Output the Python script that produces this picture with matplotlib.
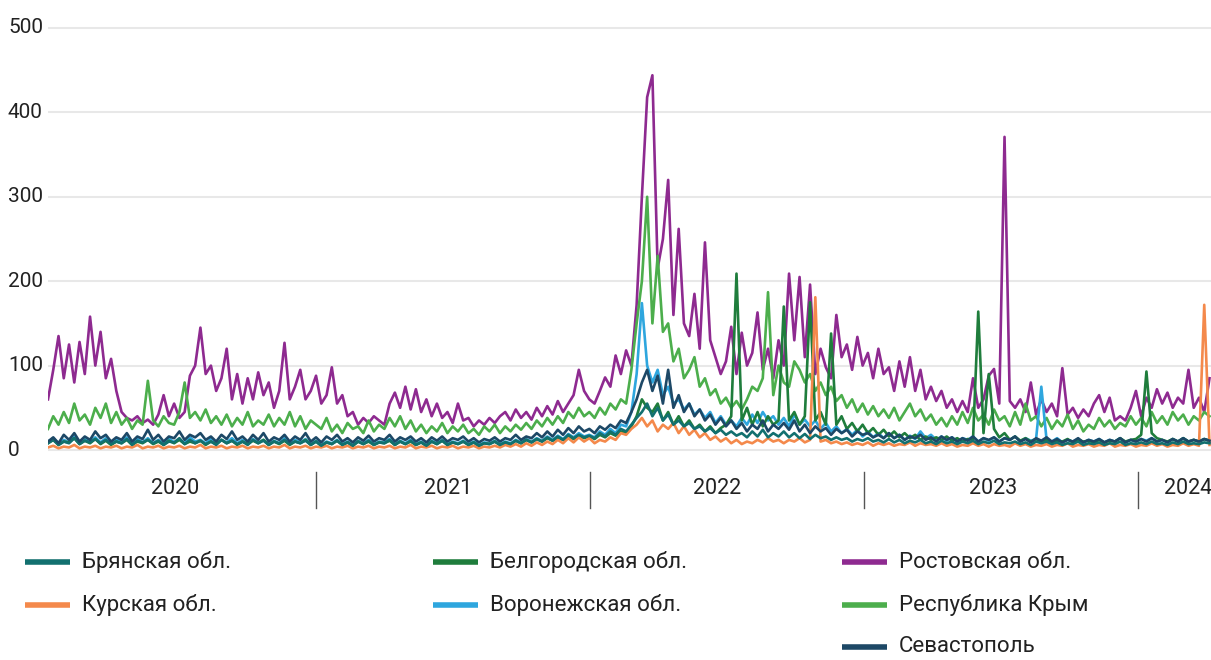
import matplotlib
matplotlib.use("Agg")
import matplotlib.pyplot as plt
import matplotlib.transforms as mtransforms
from matplotlib.lines import Line2D
import numpy as np

plt.rcParams['font.family'] = ['Liberation Sans Narrow', 'Roboto', 'DejaVu Sans']

# weekly readings, first week starting 2020-01-10
start = np.datetime64('2020-01-10')

rostov = [
    60, 95, 135, 85, 125, 80, 128, 90, 158, 100,
    140, 85, 108, 70, 45, 38, 35, 40, 32, 36,
    30, 42, 65, 40, 55, 38, 45, 88, 100, 145,
    90, 100, 70, 85, 120, 60, 90, 55, 85, 60,
    92, 65, 80, 50, 70, 127, 60, 75, 95, 60,
    70, 88, 55, 65, 98, 55, 65, 40, 45, 30,
    38, 32, 40, 35, 30, 55, 68, 50, 75, 48,
    72, 45, 60, 40, 55, 38, 45, 32, 55, 35,
    38, 28, 35, 30, 38, 32, 40, 45, 35, 48,
    38, 45, 36, 50, 40, 52, 42, 58, 45, 55,
    65, 95, 70, 60, 55, 70, 86, 75, 112, 90,
    118, 100, 172, 300, 418, 444, 215, 250, 320, 160,
    262, 150, 135, 185, 120, 246, 130, 110, 90, 105,
    146, 90, 139, 100, 115, 163, 95, 120, 85, 130,
    100, 209, 130, 205, 110, 196, 90, 120, 98, 85,
    160, 110, 125, 95, 134, 100, 115, 85, 120, 90,
    98, 70, 105, 75, 110, 70, 95, 60, 75, 58,
    70, 50, 60, 45, 58, 45, 85, 50, 60, 88,
    96, 55, 371, 58, 50, 60, 45, 80, 42, 60,
    45, 55, 40, 97, 42, 50, 38, 48, 40, 55,
    65, 45, 62, 35, 40, 35, 50, 70, 40, 62,
    50, 72, 55, 68, 50, 62, 55, 95, 50, 62,
    45, 85,
]

crimea = [
    25, 40, 30, 45, 32, 55, 35, 42, 30, 50,
    38, 55, 32, 45, 30, 38, 25, 35, 30, 82,
    35, 28, 40, 32, 30, 45, 80, 38, 45, 35,
    48, 32, 40, 30, 42, 28, 38, 30, 45, 28,
    35, 30, 42, 28, 38, 30, 45, 28, 40, 25,
    35, 30, 25, 38, 22, 30, 20, 32, 25, 28,
    20, 35, 22, 30, 25, 38, 28, 40, 25, 35,
    22, 30, 20, 28, 22, 32, 20, 28, 22, 30,
    20, 25, 18, 28, 22, 30, 20, 28, 22, 30,
    24, 32, 25, 35, 28, 38, 30, 40, 32, 45,
    38, 50, 40, 45, 38, 50, 42, 55, 48, 60,
    55, 95, 150, 200, 300, 150, 230, 140, 150, 105,
    120, 85, 95, 110, 75, 85, 65, 72, 55, 62,
    50, 58, 48, 60, 75, 70, 85, 187, 65, 100,
    80, 75, 105, 95, 80, 90, 70, 80, 65, 75,
    58, 65, 50, 60, 45, 55, 42, 52, 40, 48,
    38, 50, 35, 45, 55, 40, 48, 35, 42, 30,
    38, 28, 40, 30, 45, 32, 50, 35, 42, 30,
    48, 35, 40, 28, 45, 30, 55, 35, 40, 28,
    38, 25, 35, 28, 42, 25, 35, 22, 30, 25,
    38, 28, 35, 25, 32, 28, 40, 30, 38, 28,
    45, 32, 40, 30, 45, 35, 42, 30, 40, 35,
    45, 40,
]

sevastopol = [
    10, 15, 8, 18, 12, 20, 10, 16, 12, 22,
    14, 18, 10, 15, 12, 20, 10, 16, 13, 24,
    12, 18, 10, 16, 14, 22, 12, 18, 15, 20,
    12, 16, 10, 18, 13, 22, 12, 16, 10, 18,
    12, 20, 10, 15, 12, 18, 10, 16, 12, 20,
    10, 15, 9, 16, 12, 18, 10, 14, 9, 15,
    11, 17, 10, 14, 12, 18, 10, 15, 12, 16,
    10, 14, 9, 15, 11, 16, 10, 14, 12, 16,
    10, 14, 9, 13, 11, 15, 10, 14, 12, 18,
    12, 16, 14, 20, 15, 22, 16, 24, 18, 26,
    20, 28, 22, 25, 20, 28, 24, 30, 26, 35,
    32, 45, 60, 80, 95, 70, 88, 55, 95, 50,
    65, 45, 55, 40, 48, 35, 42, 30, 38, 28,
    35, 25, 32, 22, 30, 25, 35, 22, 30, 25,
    32, 24, 35, 22, 30, 20, 28, 22, 26, 18,
    25, 20, 24, 16, 22, 18, 20, 15, 18, 14,
    20, 14, 18, 12, 16, 14, 18, 12, 15, 10,
    16, 12, 15, 10, 14, 11, 16, 10, 14, 12,
    15, 10, 14, 12, 16, 10, 13, 9, 14, 11,
    15, 10, 13, 9, 12, 10, 14, 9, 12, 10,
    13, 9, 12, 10, 14, 9, 12, 10, 13, 10,
    14, 10, 12, 9, 13, 10, 14, 10, 12, 10,
    13, 11,
]

bryansk = [
    8, 12, 6, 10, 8, 14, 7, 11, 9, 13,
    8, 12, 7, 10, 8, 13, 6, 11, 9, 12,
    8, 11, 6, 10, 9, 14, 7, 12, 8, 11,
    7, 10, 6, 12, 8, 11, 7, 10, 6, 12,
    8, 11, 6, 10, 8, 12, 7, 10, 8, 11,
    6, 10, 5, 9, 7, 11, 6, 9, 5, 10,
    7, 11, 6, 9, 8, 12, 6, 10, 7, 11,
    6, 9, 5, 10, 7, 11, 6, 9, 7, 10,
    6, 9, 5, 8, 7, 10, 6, 9, 7, 11,
    8, 12, 9, 13, 10, 15, 11, 16, 12, 18,
    14, 18, 15, 17, 14, 20, 16, 22, 18, 25,
    22, 30, 38, 45, 55, 40, 50, 35, 42, 30,
    35, 28, 32, 25, 28, 22, 26, 20, 24, 18,
    22, 17, 20, 15, 22, 16, 24, 15, 20, 16,
    22, 15, 20, 14, 19, 13, 18, 14, 16, 12,
    15, 12, 14, 10, 13, 11, 14, 10, 12, 9,
    13, 9, 12, 8, 11, 9, 12, 8, 10, 7,
    11, 8, 10, 7, 10, 8, 11, 7, 10, 8,
    11, 7, 9, 8, 10, 7, 9, 6, 10, 8,
    10, 7, 9, 6, 8, 7, 10, 6, 8, 7,
    9, 6, 8, 7, 10, 6, 8, 7, 9, 7,
    10, 7, 8, 6, 9, 7, 10, 7, 8, 7,
    9, 8,
]

voronezh = [
    10, 14, 8, 12, 9, 16, 8, 13, 10, 15,
    9, 14, 8, 12, 10, 15, 8, 13, 9, 14,
    8, 12, 7, 14, 9, 13, 8, 15, 10, 12,
    8, 13, 7, 12, 9, 14, 8, 12, 7, 13,
    9, 12, 7, 11, 8, 14, 7, 12, 9, 13,
    7, 11, 6, 10, 8, 12, 7, 10, 6, 11,
    8, 12, 7, 10, 9, 13, 7, 11, 8, 12,
    7, 10, 6, 11, 8, 12, 7, 10, 8, 11,
    7, 10, 6, 9, 8, 11, 7, 10, 8, 12,
    9, 13, 10, 14, 11, 16, 12, 17, 13, 19,
    15, 20, 16, 18, 15, 22, 18, 25, 20, 30,
    28, 45, 90, 174, 100, 80, 95, 65, 75, 55,
    60, 48, 55, 42, 48, 38, 45, 32, 40, 30,
    35, 28, 38, 30, 42, 32, 45, 35, 40, 30,
    38, 28, 42, 30, 36, 28, 35, 25, 32, 22,
    28, 20, 25, 18, 24, 16, 22, 15, 20, 14,
    20, 14, 18, 12, 17, 13, 22, 14, 18, 12,
    16, 11, 15, 10, 14, 12, 16, 10, 14, 11,
    15, 10, 14, 12, 16, 10, 14, 11, 13, 75,
    12, 10, 14, 9, 12, 10, 13, 9, 12, 10,
    13, 9, 12, 10, 14, 9, 12, 10, 13, 11,
    14, 10, 12, 9, 13, 10, 14, 10, 12, 10,
    13, 11,
]

kursk = [
    3, 5, 2, 4, 3, 6, 2, 4, 3, 5,
    2, 4, 3, 5, 2, 4, 3, 6, 2, 4,
    3, 5, 2, 4, 3, 5, 2, 4, 3, 6,
    2, 4, 3, 5, 2, 4, 3, 5, 2, 4,
    3, 5, 2, 4, 3, 6, 2, 4, 3, 5,
    2, 4, 3, 5, 2, 4, 3, 5, 2, 4,
    3, 5, 2, 4, 3, 5, 2, 4, 3, 6,
    2, 4, 3, 5, 2, 4, 3, 5, 2, 4,
    3, 5, 2, 4, 3, 5, 3, 6, 4, 7,
    4, 8, 5, 9, 6, 10, 7, 12, 8, 14,
    9, 15, 10, 14, 8, 12, 10, 15, 12, 20,
    18, 25, 30, 38, 28, 35, 22, 30, 25, 32,
    20, 28, 18, 24, 15, 20, 12, 16, 10, 14,
    8, 12, 7, 10, 8, 12, 9, 14, 10, 12,
    8, 12, 10, 14, 9, 12, 181, 10, 12, 8,
    10, 7, 9, 6, 8, 6, 9, 5, 8, 6,
    8, 5, 7, 6, 9, 5, 8, 6, 7, 5,
    8, 5, 7, 4, 6, 5, 8, 5, 7, 4,
    7, 5, 6, 4, 8, 5, 7, 4, 6, 5,
    7, 4, 6, 5, 8, 4, 6, 5, 7, 4,
    6, 5, 8, 4, 6, 5, 7, 4, 6, 5,
    8, 5, 7, 4, 6, 5, 8, 5, 7, 5,
    172, 6,
]

belgorod = [
    8, 12, 6, 10, 9, 14, 7, 11, 8, 13,
    7, 11, 6, 10, 8, 12, 6, 10, 8, 12,
    7, 10, 6, 11, 8, 12, 7, 10, 8, 11,
    6, 10, 7, 12, 8, 11, 6, 10, 7, 11,
    8, 12, 6, 10, 7, 11, 6, 10, 8, 12,
    6, 10, 5, 9, 7, 11, 6, 9, 5, 10,
    7, 10, 6, 9, 8, 11, 6, 10, 7, 10,
    6, 9, 5, 10, 7, 11, 6, 9, 7, 10,
    6, 9, 5, 8, 7, 10, 6, 9, 7, 11,
    8, 12, 9, 13, 10, 14, 11, 15, 12, 16,
    13, 17, 14, 16, 13, 18, 15, 20, 17, 22,
    20, 28, 40, 60, 50, 45, 55, 35, 45, 30,
    40, 28, 35, 25, 30, 22, 28, 20, 26, 30,
    40, 209, 35, 50, 30, 45, 28, 40, 30, 35,
    170, 35, 45, 30, 40, 175, 35, 45, 30, 138,
    30, 40, 25, 32, 22, 30, 20, 26, 18, 24,
    16, 22, 15, 20, 14, 18, 12, 16, 12, 15,
    12, 16, 11, 14, 10, 13, 12, 164, 20, 90,
    25, 15, 20, 12, 16, 11, 14, 10, 13, 10,
    12, 9, 11, 10, 13, 9, 12, 10, 11, 9,
    12, 9, 11, 10, 14, 10, 12, 13, 18, 93,
    20, 14, 12, 10, 13, 10, 14, 10, 12, 10,
    13, 11,
]

names = ['Брянская обл.', 'Курская обл.', 'Белгородская обл.', 'Воронежская обл.',
         'Ростовская обл.', 'Республика Крым', 'Севастополь']
colors = ['#12706f', '#f4894b', '#1f7d3c', '#2ea6de', '#8e2a90', '#4cae4c', '#1d4866']
series = [bryansk, kursk, belgorod, voronezh, rostov, crimea, sevastopol]

y_ticks = [0, 100, 200, 300, 400, 500]
years = ['2020', '2021', '2022', '2023', '2024']

W, H = 1211, 660
fig = plt.figure(figsize=(W / 100, H / 100), dpi=100)

# axes placed in pixels: y=0 at 450 px, y=500 at 28 px, x from 48 px to the edge
ylo, yhi = -2, 510
px_per_unit = (450 - 28) / 500
bot_px = 450 + (0 - ylo) * px_per_unit
top_px = 450 - (yhi - 0) * px_per_unit
ax = fig.add_axes([48 / W, 1 - bot_px / H, 1 - 48 / W, (bot_px - top_px) / H])

# draw back to front
order = [4, 5, 3, 2, 1, 0, 6]
for k in order:
    vals = np.array(series[k], dtype=float)
    dates = start + np.arange(len(vals)) * np.timedelta64(7, 'D')
    ax.plot(dates, vals, color=colors[k], lw=1.9, solid_joinstyle='round', zorder=3)

ax.set_ylim(ylo, yhi)
ax.set_xlim(start, np.datetime64('2024-04-07'))
for v in y_ticks:
    ax.axhline(v, color='#e8e8e8', lw=1.5, zorder=1)
for s in ax.spines.values():
    s.set_visible(False)
ax.set_xticks([])
ax.set_yticks([])

# y labels, left aligned at the figure edge
tr_y = mtransforms.blended_transform_factory(fig.transFigure, ax.transData)
for v in y_ticks:
    ax.text(8 / W, v, str(v), transform=tr_y, ha='left', va='center',
            fontsize=15, color='#222222')

# year separators and labels under the plot
tr_x = mtransforms.blended_transform_factory(ax.transData, fig.transFigure)
for y in years[1:]:
    d = np.datetime64(y + '-01-01')
    ax.plot([d, d], [1 - 472 / H, 1 - 508 / H], transform=tr_x, color='#555555',
            lw=1.0, clip_on=False)
label_dates = ['2020-06-27', '2021-06-26', '2022-06-19', '2023-06-22', '2024-03-08']
for y, d in zip(years, label_dates):
    ax.text(np.datetime64(d), 1 - 489 / H, y, transform=tr_x, ha='center', va='center',
            fontsize=15.5, color='#222222')

# legend, drawn by hand in three columns (2, 2, 3 entries)
col_x = [25, 433, 842]
row_y = [562, 605, 647]
slots = [(0, 0), (0, 1), (1, 0), (1, 1), (2, 0), (2, 1), (2, 2)]
for k, (c, r) in enumerate(slots):
    x0 = col_x[c]
    yy = 1 - row_y[r] / H
    fig.add_artist(Line2D([x0 / W, (x0 + 45) / W], [yy, yy], color=colors[k], lw=4,
                          solid_capstyle='butt', transform=fig.transFigure))
    fig.text((x0 + 57) / W, yy, names[k], ha='left', va='center', fontsize=16,
             color='#222222')

fig.savefig('out.png', dpi=100)
